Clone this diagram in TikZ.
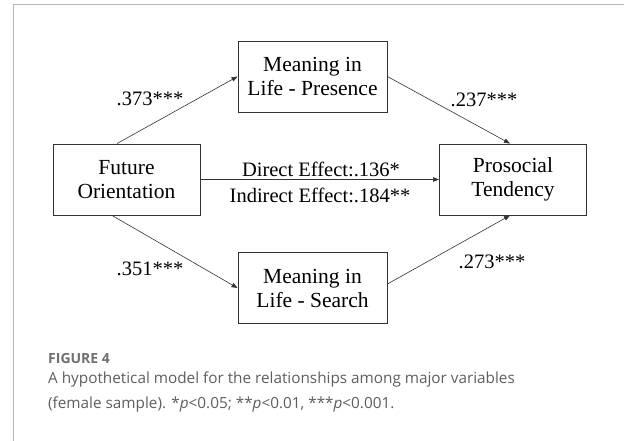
\documentclass[tikz,border=0pt]{standalone}
\usepackage{fontspec}
\setmainfont{Liberation Serif}
\newfontfamily\capfont{Open Sans}
\usetikzlibrary{arrows.meta,calc}
\definecolor{frame}{HTML}{B4B4B4}
\definecolor{capgray}{HTML}{5E5E5E}
\definecolor{figgray}{HTML}{707070}
\definecolor{linec}{HTML}{333333}
\begin{document}
\begin{tikzpicture}[x=1pt,y=-1pt,
  varbox/.style={draw=linec,line width=0.9pt,minimum width=149pt,minimum height=71pt,inner sep=0pt,align=center,font=\fontsize{21.5}{24}\selectfont},
  path/.style={draw=linec,line width=0.6pt,-{Triangle[length=6pt,width=4.5pt]}},
  coef/.style={font=\fontsize{20.5}{23}\selectfont,inner sep=0pt}]
\useasboundingbox (0,0) rectangle (624,441);
\fill[white] (0,0) rectangle (624,441);
\draw[frame,line width=1.5pt] (13.5,441) -- (13.5,4.5) -- (624,4.5);
\node[varbox] (mp) at (312.5,76.5) {Meaning in\\Life - Presence};
\node[varbox,minimum width=147pt] (fo) at (126.5,179.5) {Future\\Orientation};
\node[varbox,minimum width=147pt] (pt) at (513,179.5) {Prosocial\\Tendency};
\node[varbox] (ms) at (312.5,288) {Meaning in\\Life - Search};
\draw[path] ([xshift=-9.5pt]fo.north) -- (mp.west);
\draw[path] (mp.east) -- ([xshift=-3pt]pt.north);
\draw[path] (fo.east) -- (pt.west);
\draw[path] ([xshift=-14.5pt]fo.south) -- (ms.west);
\draw[path] ([yshift=4pt]ms.east) -- ([xshift=-3pt]pt.south);
\node[coef] (c1) at (150,99) {.373***};
\node[coef] (c2) at (484,100) {.237***};
\node[coef] (c3) at (321,169.5) {Direct Effect:.136*};
\node[coef] (c4) at (320,195) {Indirect Effect:.184**};
\node[coef] (c5) at (150,269) {.351***};
\node[coef] (c6) at (492,262) {.273***};
\node[anchor=west,inner sep=0pt,text=figgray,font=\capfont\bfseries\fontsize{14}{16}\selectfont] (fig) at (48,358) {FIGURE 4};
\node[anchor=north west,inner sep=0pt,text=capgray,align=left,font=\capfont\fontsize{15.3}{25}\selectfont] (cap) at (48,372) {A hypothetical model for the relationships among major variables\\(female sample). *\textit{p}<0.05; **\textit{p}<0.01, ***\textit{p}<0.001.};
\end{tikzpicture}
\end{document}
